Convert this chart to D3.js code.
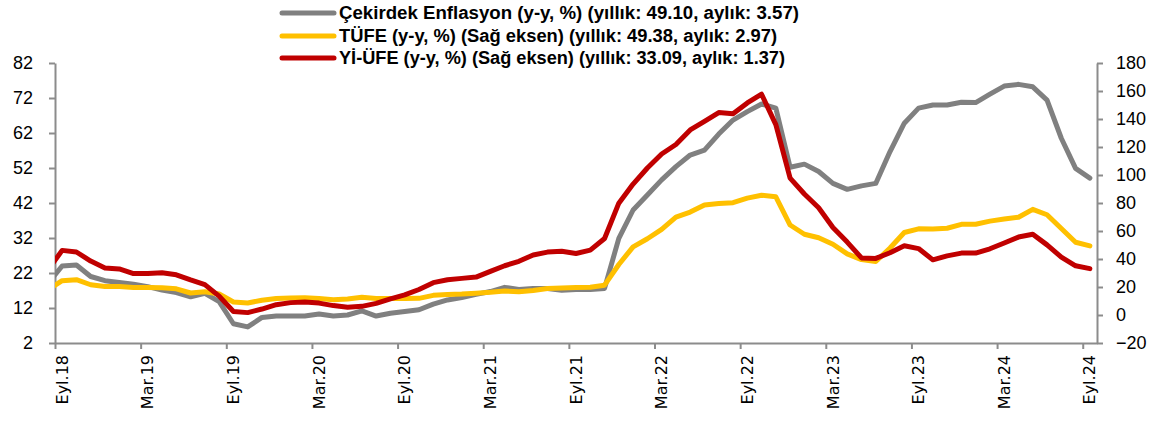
<!DOCTYPE html>
<html>
<head>
<meta charset="utf-8">
<script src="https://cdn.jsdelivr.net/npm/d3@7"></script>
<style>
	body { margin: 0; background: #fff; }
	svg { display: block; }
</style>
</head>
<body>
<svg id="chart" width="1160" height="425"></svg>
<script>
// months Ağu.18 .. Eyl.24 (Ağu.18 only feeds the first clipped segment)
const months = d3.timeMonth.range(new Date(2018, 7, 1), new Date(2024, 9, 1));

const tickLabels = ['Eyl.18','Mar.19','Eyl.19','Mar.20','Eyl.20','Mar.21','Eyl.21','Mar.22','Eyl.22','Mar.23','Eyl.23','Mar.24','Eyl.24'];

// Çekirdek enflasyon, y-y % (left axis)
const coreInfl = [
	19.0, 24.0, 24.3, 21.0, 19.8,
	19.3, 18.8, 18.1, 17.1, 16.4, 15.2, 16.2, 13.8, 7.5, 6.6, 9.3, 9.7,
	9.7, 9.7, 10.3, 9.7, 10.0, 11.2, 9.7, 10.5, 11.0, 11.5, 13.1, 14.3,
	15.0, 15.9, 16.7, 17.9, 17.3, 17.6, 17.6, 17.1, 17.3, 17.3, 17.6, 31.9,
	40.0, 44.3, 48.6, 52.4, 55.7, 57.1, 61.7, 65.7, 68.1, 70.3, 69.1, 52.2,
	53.1, 51.0, 47.6, 45.9, 46.9, 47.6, 56.7, 64.8, 69.1, 70.0, 70.0, 70.8,
	70.7, 73.1, 75.4, 75.9, 75.2, 71.4, 60.5, 51.9, 49.1
];

// TÜFE, y-y % (right axis)
const tufe = [
	17.90, 24.52, 25.24, 21.62, 20.30,
	20.35, 19.67, 19.71, 19.50, 18.71, 15.72, 16.65, 15.01, 9.26, 8.55, 10.56, 11.84,
	12.15, 12.37, 11.86, 10.94, 11.39, 12.62, 11.76, 11.77, 11.75, 11.89, 14.03, 14.60,
	14.97, 15.61, 16.19, 17.14, 16.59, 17.53, 18.95, 19.25, 19.58, 19.89, 21.31, 36.08,
	48.69, 54.44, 61.14, 69.97, 73.50, 78.62, 79.60, 80.21, 83.45, 85.51, 84.39, 64.27,
	57.68, 55.18, 50.51, 43.68, 39.59, 38.21, 47.83, 58.94, 61.53, 61.36, 61.98, 64.77,
	64.86, 67.07, 68.50, 69.80, 75.45, 71.60, 61.78, 51.97, 49.38
];

// Yİ-ÜFE, y-y % (right axis)
const yiUfe = [
	32.13, 46.15, 45.01, 38.54, 33.64,
	32.93, 29.59, 29.64, 30.12, 28.71, 25.04, 21.66, 13.45, 2.45, 1.70, 4.26, 7.36,
	8.84, 9.26, 8.50, 6.71, 5.53, 6.17, 8.33, 11.53, 14.33, 18.20, 23.11, 25.15,
	26.16, 27.09, 31.20, 35.17, 38.33, 42.89, 44.92, 45.52, 43.96, 46.31, 54.62, 79.89,
	93.53, 105.01, 114.97, 121.82, 132.16, 138.31, 144.61, 143.75, 151.50, 157.69, 136.02, 97.72,
	86.46, 76.61, 62.45, 52.11, 40.76, 40.42, 44.50, 49.41, 47.44, 39.39, 42.25, 44.22,
	44.20, 47.29, 51.47, 55.66, 57.68, 50.09, 41.37, 35.17, 33.09
];

const leftTicks = d3.range(2, 83, 10);
const rightTicks = d3.range(-20, 181, 20);

const legendLabels = [
	'Çekirdek Enflasyon (y-y, %) (yıllık: 49.10, aylık: 3.57)',
	'TÜFE (y-y, %) (Sağ eksen) (yıllık: 49.38, aylık: 2.97)',
	'Yİ-ÜFE (y-y, %) (Sağ eksen) (yıllık: 33.09, aylık: 1.37)'
];

const colors = ['#808080', '#ffc000', '#c00000'];
const axisColor = '#8c8c8c';

const plot = { left: 55, right: 1097, top: 63, bottom: 343 };

const svg = d3.select('#chart');

const x = d3.scaleLinear().domain([0.5, months.length - 0.5]).range([plot.left, plot.right]);
const yL = d3.scaleLinear().domain([2, 82]).range([plot.bottom, plot.top]);
const yR = d3.scaleLinear().domain([-20, 180]).range([plot.bottom, plot.top]);

svg.append('defs').append('clipPath').attr('id', 'plotClip')
	.append('rect')
	.attr('x', plot.left).attr('y', 0)
	.attr('width', plot.right - plot.left).attr('height', 425);

// axes
const styleAxis = function(g)
{
	g.selectAll('path.domain').attr('stroke', axisColor).attr('stroke-width', 2);
	g.selectAll('.tick line').attr('stroke', axisColor).attr('stroke-width', 2);
	g.selectAll('.tick text')
		.attr('fill', '#000')
		.style('font-family', '"Liberation Sans", Arial, sans-serif')
		.style('font-size', '18px');
};

const tickIdx = d3.range(1, months.length, 6);

svg.append('g')
	.attr('transform', `translate(0,${plot.bottom})`)
	.call(d3.axisBottom(x).tickValues(tickIdx.map((i) => i - 0.5)).tickFormat('').tickSize(6).tickSizeOuter(0))
	.call(styleAxis);

svg.append('g')
	.attr('transform', `translate(${plot.left},0)`)
	.call(d3.axisLeft(yL).tickValues(leftTicks).tickSize(6).tickSizeOuter(0).tickPadding(16))
	.call(styleAxis);

svg.append('g')
	.attr('transform', `translate(${plot.right},0)`)
	.call(d3.axisRight(yR).tickValues(rightTicks).tickSize(6).tickSizeOuter(0).tickPadding(13))
	.call(styleAxis);

// rotated month labels
svg.append('g').selectAll('text')
	.data(tickIdx)
	.join('text')
	.attr('transform', (d) => `translate(${x(d)},${plot.bottom + 12}) rotate(-90)`)
	.attr('dy', '0.35em')
	.attr('text-anchor', 'end')
	.attr('fill', '#000')
	.style('font-family', '"DejaVu Sans", Verdana, sans-serif')
	.style('font-size', '16px')
	.text((d, i) => tickLabels[i]);

// series
const series = [
	{ values: coreInfl, scale: yL },
	{ values: tufe, scale: yR },
	{ values: yiUfe, scale: yR }
];

const lines = svg.append('g').attr('clip-path', 'url(#plotClip)');
series.forEach(function(s, k)
{
	const gen = d3.line().x((d, i) => x(i)).y((d) => s.scale(d));
	lines.append('path')
		.attr('d', gen(s.values))
		.attr('fill', 'none')
		.attr('stroke', colors[k])
		.attr('stroke-width', 5)
		.attr('stroke-linejoin', 'round')
		.attr('stroke-linecap', 'round');
});

// legend
const legendRowY = [13, 36, 58];
const legendWidths = [460, 438, 446];
const legend = svg.append('g');
legendLabels.forEach(function(label, k)
{
	legend.append('line')
		.attr('x1', 282).attr('x2', 334)
		.attr('y1', legendRowY[k]).attr('y2', legendRowY[k])
		.attr('stroke', colors[k])
		.attr('stroke-width', 5)
		.attr('stroke-linecap', 'round');
	legend.append('text')
		.attr('x', 339).attr('y', legendRowY[k])
		.attr('dy', '0.35em')
		.attr('fill', '#000')
		.attr('textLength', legendWidths[k])
		.attr('lengthAdjust', 'spacingAndGlyphs')
		.style('font-family', '"Liberation Sans Narrow", "Liberation Sans", Arial, sans-serif')
		.style('font-weight', 'bold')
		.style('font-size', '18px')
		.text(label);
});
</script>
</body>
</html>
